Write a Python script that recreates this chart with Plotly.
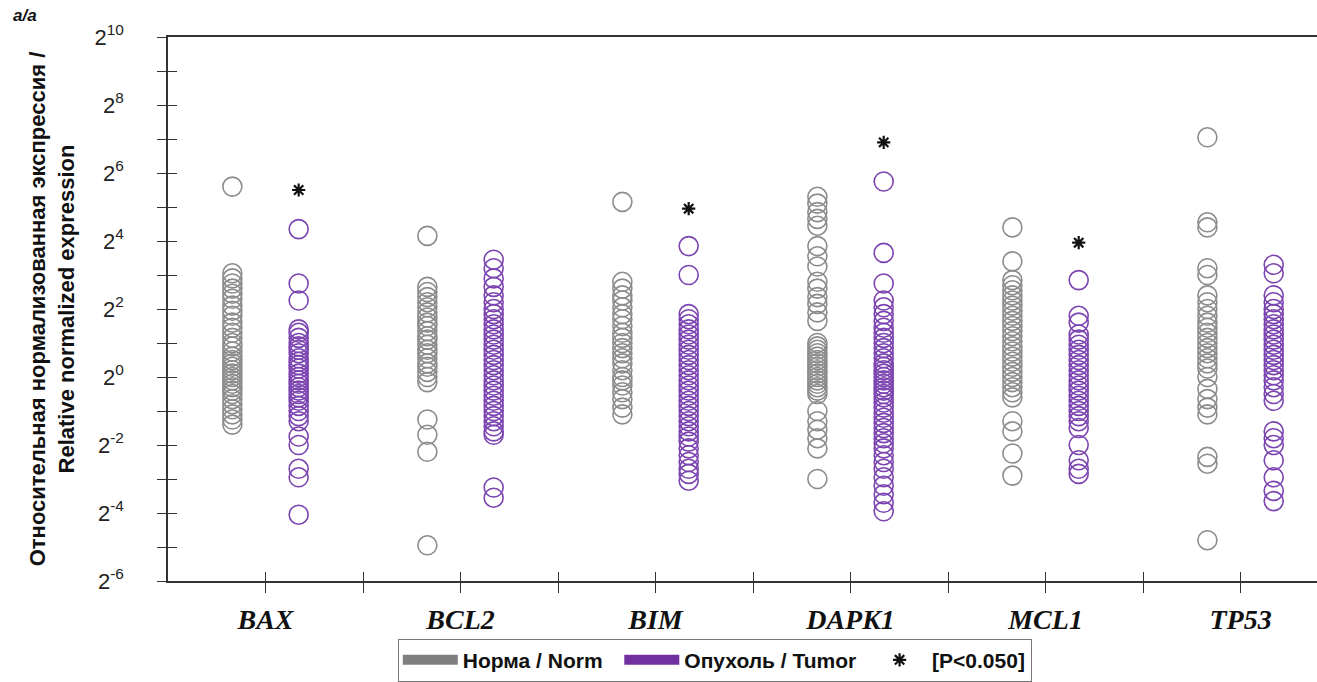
import plotly.graph_objects as go

# ---------------- data (log2 of relative normalized expression) ----------------
genes = ["BAX", "BCL2", "BIM", "DAPK1", "MCL1", "TP53"]

norm_BAX = [5.6, 3.05, 2.9, 2.75, 2.6, 2.45, 2.3, 2.1, 1.95, 1.8, 1.6, 1.45, 1.3, 1.15, 1.0, 0.9,
            0.75, 0.6, 0.5, 0.4, 0.3, 0.2, 0.1, 0.0, -0.1, -0.2, -0.3, -0.4, -0.5, -0.65, -0.8,
            -0.95, -1.1, -1.25, -1.4]
tumor_BAX = [4.35, 2.75, 2.25, 1.4, 1.3, 1.15, 1.0, 0.9, 0.8, 0.7, 0.55, 0.45, 0.35, 0.25, 0.1,
             0.0, -0.1, -0.2, -0.3, -0.4, -0.5, -0.6, -0.7, -0.85, -1.0, -1.15, -1.3, -1.75, -2.0,
             -2.7, -2.95, -4.05]

norm_BCL2 = [4.15, 2.65, 2.5, 2.35, 2.2, 2.05, 1.9, 1.75, 1.6, 1.5, 1.35, 1.2, 1.1, 0.95, 0.8,
             0.7, 0.55, 0.4, 0.3, 0.15, 0.0, -0.15, -1.25, -1.7, -2.2, -4.95]
tumor_BCL2 = [3.45, 3.2, 2.9, 2.65, 2.4, 2.2, 2.0, 1.85, 1.7, 1.55, 1.4, 1.25, 1.1, 0.95, 0.8,
              0.65, 0.5, 0.35, 0.2, 0.05, -0.1, -0.25, -0.4, -0.55, -0.7, -0.85, -1.0, -1.15,
              -1.3, -1.45, -1.6, -1.7, -3.25, -3.55]

norm_BIM = [5.15, 2.8, 2.6, 2.4, 2.25, 2.05, 1.85, 1.7, 1.5, 1.3, 1.15, 1.0, 0.85, 0.7, 0.55,
            0.4, 0.2, 0.0, -0.1, -0.25, -0.45, -0.65, -0.9, -1.1]
tumor_BIM = [3.85, 3.0, 1.85, 1.7, 1.55, 1.4, 1.25, 1.1, 0.95, 0.8, 0.65, 0.5, 0.35, 0.2, 0.05,
             -0.1, -0.25, -0.4, -0.55, -0.7, -0.85, -1.0, -1.15, -1.3, -1.45, -1.6, -1.75, -1.9,
             -2.1, -2.3, -2.5, -2.7, -2.85, -3.05]

norm_DAPK1 = [5.3, 5.1, 4.85, 4.65, 4.45, 3.85, 3.55, 3.25, 2.8, 2.6, 2.35, 2.15, 1.9, 1.65,
              1.0, 0.9, 0.8, 0.7, 0.6, 0.5, 0.4, 0.3, 0.2, 0.1, 0.0, -0.1, -0.2, -0.3, -0.4,
              -0.5, -1.0, -1.3, -1.55, -1.8, -2.1, -3.0]
tumor_DAPK1 = [5.75, 3.65, 2.75, 2.25, 2.05, 1.85, 1.65, 1.45, 1.3, 1.15, 1.0, 0.85, 0.7, 0.55,
               0.4, 0.3, 0.2, 0.1, 0.0, -0.1, -0.2, -0.3, -0.4, -0.5, -0.6, -0.75, -0.9, -1.05,
               -1.2, -1.35, -1.5, -1.65, -1.8, -1.95, -2.1, -2.3, -2.5, -2.7, -2.95, -3.2,
               -3.45, -3.7, -3.95]

norm_MCL1 = [4.4, 3.4, 2.85, 2.7, 2.55, 2.4, 2.25, 2.1, 1.95, 1.8, 1.65, 1.5, 1.35, 1.2, 1.05,
             0.9, 0.75, 0.6, 0.45, 0.3, 0.15, 0.0, -0.15, -0.3, -0.45, -0.6, -1.3, -1.6, -2.25,
             -2.9]
tumor_MCL1 = [2.85, 1.8, 1.6, 1.25, 1.1, 0.95, 0.8, 0.65, 0.5, 0.35, 0.2, 0.05, -0.1, -0.25,
              -0.4, -0.55, -0.7, -0.85, -1.0, -1.15, -1.3, -1.5, -2.0, -2.45, -2.7, -2.85]

norm_TP53 = [7.05, 4.55, 4.4, 3.2, 3.0, 2.4, 2.2, 2.0, 1.8, 1.6, 1.45, 1.3, 1.15, 1.0, 0.85,
             0.7, 0.55, 0.4, 0.25, 0.0, -0.35, -0.65, -0.9, -1.1, -2.35, -2.55, -4.8]
tumor_TP53 = [3.3, 3.05, 2.4, 2.2, 2.0, 1.85, 1.7, 1.55, 1.4, 1.25, 1.1, 0.95, 0.8, 0.65, 0.5,
              0.35, 0.2, 0.05, -0.1, -0.3, -0.5, -0.7, -1.6, -1.8, -2.0, -2.45, -2.95, -3.35,
              -3.65]

# significance marks (P<0.050), drawn above the tumor columns
sig_genes = ["BAX", "BIM", "DAPK1", "MCL1"]
sig_y = [5.5, 4.95, 6.9, 3.95]

y_tick_exponents = [-6, -4, -2, 0, 2, 4, 6, 8, 10]
y_tick_labels = ["2<sup>-6</sup>", "2<sup>-4</sup>", "2<sup>-2</sup>", "2<sup>0</sup>",
                 "2<sup>2</sup>", "2<sup>4</sup>", "2<sup>6</sup>", "2<sup>8</sup>",
                 "2<sup>10</sup>"]

norm_label = "Норма / Norm"
tumor_label = "Опухоль / Tumor"
sig_label = "[P<0.050]"

# ---------------- build ----------------
norm_data = [norm_BAX, norm_BCL2, norm_BIM, norm_DAPK1, norm_MCL1, norm_TP53]
tumor_data = [tumor_BAX, tumor_BCL2, tumor_BIM, tumor_DAPK1, tumor_MCL1, tumor_TP53]
OFFSET = 0.17
GREY = "#8c8c8c"
PURPLE = "#7b44b0"
NBSP = "\u00a0"

nx, ny, tx, ty = [], [], [], []
for i, g in enumerate(genes):
    nx += [i - OFFSET] * len(norm_data[i])
    ny += norm_data[i]
    tx += [i + OFFSET] * len(tumor_data[i])
    ty += tumor_data[i]

fig = go.Figure()
fig.add_trace(go.Scatter(
    x=nx, y=ny, mode="markers", name=norm_label, showlegend=False, legendgroup="n",
    marker=dict(symbol="circle-open", size=19, color=GREY, line=dict(width=1.6, color=GREY)),
))
fig.add_trace(go.Scatter(
    x=tx, y=ty, mode="markers", name=tumor_label, showlegend=False, legendgroup="t",
    marker=dict(symbol="circle-open", size=19, color=PURPLE, line=dict(width=1.6, color=PURPLE)),
))
# legend swatches
fig.add_trace(go.Scatter(x=[None], y=[None], mode="lines", name=norm_label + NBSP * 2,
                         legendgroup="n", line=dict(color="#7f7f7f", width=14)))
fig.add_trace(go.Scatter(x=[None], y=[None], mode="lines", name=tumor_label + NBSP,
                         legendgroup="t", line=dict(color="#7030a0", width=14)))
fig.add_trace(go.Scatter(
    x=[genes.index(g) + OFFSET for g in sig_genes], y=sig_y, mode="markers",
    name=sig_label, xaxis="x2", yaxis="y2",
    marker=dict(symbol="asterisk-open", size=11, color="#111", line=dict(width=2.2, color="#111")),
))

XR = [-0.5, 5.392]
YR = [-6, 10]
axis_font = dict(family="Liberation Sans", size=22, color="#222")

fig.update_layout(
    width=1317, height=682,
    margin=dict(l=168, r=0, t=37, b=98),
    paper_bgcolor="white", plot_bgcolor="white",
    font=dict(family="Liberation Sans", color="#222"),
    xaxis=dict(
        range=XR, showgrid=False, zeroline=False, automargin=False,
        showline=True, linecolor="#333", linewidth=1.5, mirror=True,
        tickmode="array", tickvals=list(range(len(genes))),
        ticktext=["<b><i>" + g + "</i></b>" for g in genes],
        ticks="outside", ticklen=10, tickwidth=1.3, tickcolor="#333",
        tickfont=dict(family="Liberation Serif", size=28, color="#111"),
        minor=dict(ticks="outside", ticklen=10, tickwidth=1.3, tickcolor="#333",
                   tickvals=[0.5, 1.5, 2.5, 3.5, 4.5]),
        ticklabelstandoff=3,
    ),
    xaxis2=dict(
        range=XR, overlaying="x", anchor="y2", showgrid=False, zeroline=False, automargin=False,
        showline=False, showticklabels=False,
        tickmode="array", tickvals=list(range(len(genes))),
        ticks="inside", ticklen=9, tickwidth=1.3, tickcolor="#333",
        minor=dict(ticks="inside", ticklen=9, tickwidth=1.3, tickcolor="#333",
                   tickvals=[0.5, 1.5, 2.5, 3.5, 4.5]),
    ),
    yaxis=dict(
        range=YR, showgrid=False, zeroline=False, automargin=False,
        showline=True, linecolor="#333", linewidth=1.5,
        tickmode="array", tickvals=y_tick_exponents, ticktext=y_tick_labels,
        ticks="outside", ticklen=9, tickwidth=1.3, tickcolor="#333",
        tickfont=axis_font,
        minor=dict(ticks="outside", ticklen=9, tickwidth=1.3, tickcolor="#333", dtick=1, tick0=-6),
        ticklabelstandoff=29,
        title=dict(text="<b>Относительная нормализованная экспрессия /<br>Relative normalized expression</b>",
                   font=dict(family="Liberation Sans", size=22, color="#111"), standoff=14),
    ),
    yaxis2=dict(
        range=YR, overlaying="y", anchor="x2", side="left", showgrid=False, zeroline=False,
        automargin=False, showline=False, showticklabels=False,
        tickmode="array", tickvals=y_tick_exponents,
        ticks="inside", ticklen=9, tickwidth=1.3, tickcolor="#333",
        minor=dict(ticks="inside", ticklen=9, tickwidth=1.3, tickcolor="#333", dtick=1, tick0=-6),
    ),
    legend=dict(
        orientation="h", x=0.2, xanchor="left", y=-0.106, yanchor="top",
        bordercolor="#777", borderwidth=1, bgcolor="white",
        font=dict(family="Liberation Sans", size=21, color="#111", weight="bold"),
        itemwidth=55, tracegroupgap=0,
    ),
    annotations=[dict(text="<b><i>a/a</i></b>", xref="paper", yref="paper", x=-0.137, y=1.018,
                      xanchor="left", yanchor="bottom", showarrow=False,
                      font=dict(family="Liberation Sans", size=17, color="#111"))],
)

fig.write_html("out.html", config={"displayModeBar": False},
               post_script="document.body.style.margin='0';")
